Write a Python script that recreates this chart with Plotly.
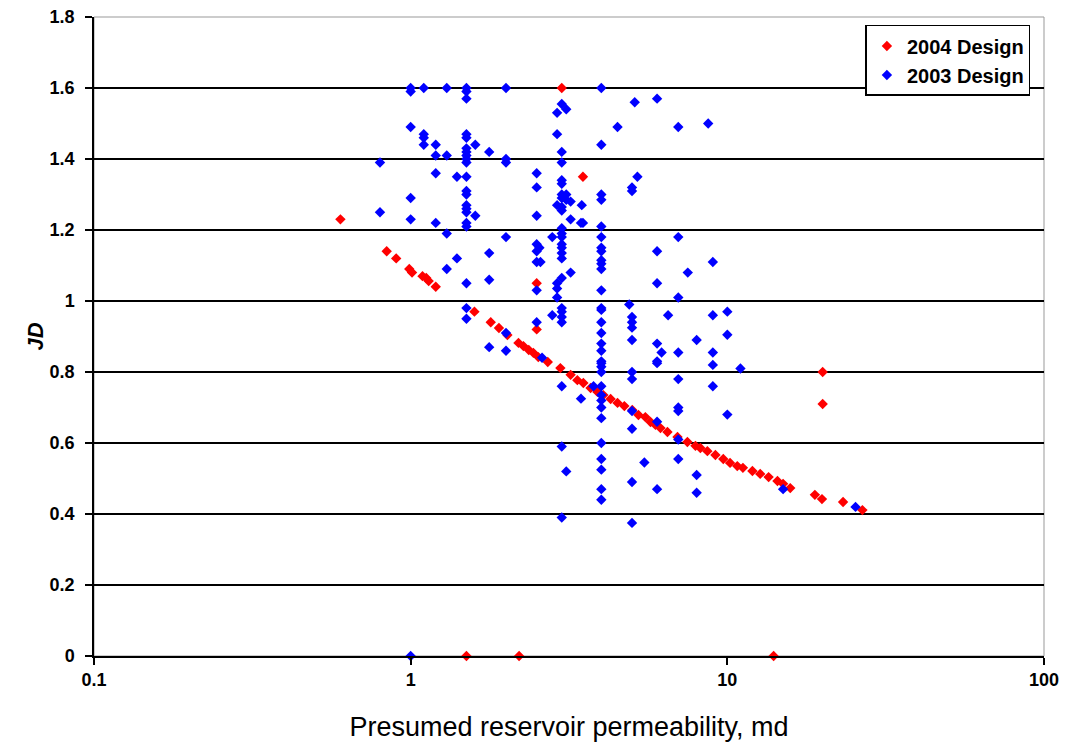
import plotly.graph_objects as go

# ---- data ----
red_k = [0.84, 0.90, 0.99, 1.01, 1.09, 1.12, 1.14, 1.20, 1.59, 1.79, 1.90, 2.02, 2.19, 2.27, 2.36,
         2.44, 2.53, 2.71, 2.97, 3.20, 3.36, 3.51, 3.70, 3.89, 4.06, 4.28, 4.50, 4.73, 5.01, 5.24,
         5.51, 5.72, 5.93, 6.15, 6.47, 6.96, 7.48, 7.93, 8.22, 8.65, 9.17, 9.71, 10.2, 10.75, 11.2,
         12.0, 12.7, 13.5, 14.4, 15.0, 15.8, 18.9, 19.9, 23.2, 26.7,
         0.6, 2.5, 2.5, 3.0, 3.5, 20.0, 20.0, 1.5, 2.2, 14.0]
red_jd = [1.14, 1.12, 1.09, 1.08, 1.07, 1.065, 1.056, 1.04, 0.97, 0.94, 0.924, 0.904, 0.882, 0.873, 0.862,
          0.854, 0.842, 0.828, 0.811, 0.792, 0.777, 0.769, 0.755, 0.744, 0.735, 0.724, 0.713, 0.704, 0.693, 0.679,
          0.673, 0.659, 0.651, 0.642, 0.631, 0.617, 0.603, 0.592, 0.586, 0.577, 0.566, 0.555, 0.544, 0.535, 0.530,
          0.521, 0.513, 0.504, 0.493, 0.485, 0.473, 0.454, 0.442, 0.434, 0.411,
          1.23, 1.05, 0.92, 1.60, 1.35, 0.80, 0.71, 0.0, 0.0, 0.0]

blue_points = [
    (0.8, 1.39), (0.8, 1.25),
    (1.0, 1.60), (1.0, 1.59), (1.0, 1.49), (1.0, 1.29), (1.0, 1.23), (1.0, 0.0),
    (1.1, 1.60), (1.1, 1.47), (1.1, 1.46), (1.1, 1.44),
    (1.2, 1.44), (1.2, 1.41), (1.2, 1.36), (1.2, 1.22),
    (1.3, 1.60), (1.3, 1.41), (1.3, 1.19), (1.3, 1.09),
    (1.4, 1.35), (1.4, 1.12),
    (1.5, 1.60), (1.5, 1.59), (1.5, 1.57), (1.5, 1.47), (1.5, 1.46), (1.5, 1.43), (1.5, 1.42),
    (1.5, 1.41), (1.5, 1.40), (1.5, 1.39), (1.5, 1.35), (1.5, 1.31), (1.5, 1.30), (1.5, 1.27),
    (1.5, 1.26), (1.5, 1.25), (1.5, 1.22), (1.5, 1.21), (1.5, 1.05), (1.5, 0.98), (1.5, 0.95),
    (1.6, 1.44), (1.6, 1.24),
    (1.77, 1.42), (1.77, 1.135), (1.77, 1.06), (1.77, 0.87),
    (2.0, 1.60), (2.0, 1.40), (2.0, 1.39), (2.0, 1.18), (2.0, 0.91), (2.0, 0.86),
    (2.5, 1.36), (2.5, 1.32), (2.5, 1.24), (2.5, 1.16), (2.55, 1.15), (2.5, 1.14), (2.5, 1.11),
    (2.57, 1.11), (2.5, 1.03), (2.5, 0.94), (2.6, 0.84),
    (2.8, 1.18), (2.8, 0.96),
    (3.0, 1.555), (3.1, 1.54), (2.9, 1.53), (2.9, 1.47), (3.0, 1.42), (3.0, 1.39), (3.0, 1.34),
    (3.0, 1.33), (3.0, 1.30), (3.1, 1.30), (3.0, 1.29), (3.1, 1.285), (2.9, 1.27), (3.0, 1.265),
    (3.2, 1.28), (3.0, 1.255), (3.2, 1.23), (3.0, 1.205), (3.0, 1.19), (3.0, 1.18), (3.0, 1.16),
    (3.0, 1.15), (3.0, 1.135), (3.0, 1.12), (3.2, 1.08), (3.0, 1.065), (2.9, 1.05), (2.9, 1.035),
    (2.9, 1.01), (3.0, 0.98), (3.0, 0.97), (3.0, 0.955), (3.0, 0.94), (3.0, 0.76), (3.0, 0.59),
    (3.1, 0.52), (3.0, 0.39),
    (3.45, 1.22), (3.5, 1.22), (3.47, 1.27), (3.45, 0.725),
    (3.78, 0.76),
    (4.0, 1.60), (4.0, 1.44), (4.0, 1.30), (4.0, 1.285), (4.0, 1.21), (4.0, 1.18), (4.0, 1.15),
    (4.0, 1.14), (4.0, 1.115), (4.0, 1.105), (4.0, 1.09), (4.0, 1.03), (4.0, 0.98), (4.0, 0.975),
    (4.0, 0.94), (4.0, 0.91), (4.0, 0.88), (4.0, 0.86), (4.0, 0.83), (4.0, 0.825), (4.0, 0.815),
    (4.0, 0.80), (4.0, 0.76), (4.0, 0.735), (4.0, 0.72), (4.0, 0.70), (4.0, 0.67), (4.0, 0.60),
    (4.0, 0.555), (4.0, 0.525), (4.0, 0.47), (4.0, 0.44),
    (4.5, 1.49),
    (4.9, 0.99),
    (5.1, 1.56), (5.2, 1.35), (5.0, 1.32), (5.0, 1.31), (5.0, 0.955), (5.0, 0.94), (5.0, 0.925),
    (5.0, 0.89), (5.0, 0.80), (5.0, 0.78), (5.0, 0.69), (5.0, 0.64), (5.0, 0.49), (5.0, 0.375),
    (5.47, 0.545),
    (6.0, 1.57), (6.0, 1.14), (6.0, 1.05), (6.0, 0.88), (6.2, 0.855), (6.0, 0.83), (6.0, 0.825),
    (6.0, 0.66), (6.0, 0.47),
    (6.5, 0.96),
    (7.0, 1.49), (7.0, 1.18), (7.0, 1.01), (7.0, 0.855), (7.0, 0.78), (7.0, 0.70), (7.0, 0.69),
    (7.0, 0.61), (7.0, 0.555),
    (7.5, 1.08),
    (8.0, 0.89), (8.0, 0.51), (8.0, 0.46),
    (8.7, 1.50),
    (9.0, 1.11), (9.0, 0.96), (9.0, 0.855), (9.0, 0.82), (9.0, 0.76),
    (10.0, 0.97), (10.0, 0.905), (10.0, 0.68),
    (11.0, 0.81),
    (15.0, 0.47),
    (25.4, 0.42),
]
blue_k = [p[0] for p in blue_points]
blue_jd = [p[1] for p in blue_points]

x_ticks = [0.1, 1, 10, 100]
x_tick_labels = ["0.1", "1", "10", "100"]
y_ticks = [0, 0.2, 0.4, 0.6, 0.8, 1.0, 1.2, 1.4, 1.6, 1.8]
y_tick_labels = ["0", "0.2", "0.4", "0.6", "0.8", "1", "1.2", "1.4", "1.6", "1.8"]

FONT = "Liberation Sans, Arial, sans-serif"

fig = go.Figure()
fig.add_trace(go.Scatter(x=red_k, y=red_jd, mode="markers", name="2004 Design",
                         marker=dict(symbol="diamond", size=8, color="#FF0000"),
                         cliponaxis=False))
fig.add_trace(go.Scatter(x=blue_k, y=blue_jd, mode="markers", name="2003 Design",
                         marker=dict(symbol="diamond", size=8, color="#0000FF"),
                         cliponaxis=False))

fig.update_layout(
    width=1069, height=743,
    margin=dict(l=86, r=33, t=9, b=95, autoexpand=False),
    paper_bgcolor="white", plot_bgcolor="white",
    font=dict(family=FONT, color="black"),
    showlegend=True,
    legend=dict(x=0.812, y=0.9875, xanchor="left", yanchor="top",
                bgcolor="white", bordercolor="black", borderwidth=1.5,
                font=dict(family=FONT, size=20, color="black", weight="bold"),
                tracegroupgap=0, itemsizing="trace", itemwidth=30),
    xaxis=dict(type="log", range=[-1, 2], tickvals=x_ticks, ticktext=x_tick_labels,
               ticks="outside", ticklen=7, tickcolor="black", tickwidth=1.5,
               showline=True, linecolor="black", linewidth=1.5, showgrid=False, zeroline=False,
               automargin=False, ticklabeloverflow="allow",
               tickfont=dict(family=FONT, size=18, color="black", weight="bold"),
               title=dict(text="Presumed reservoir permeability, md",
                          font=dict(family=FONT, size=27, color="black"), standoff=28)),
    yaxis=dict(range=[0, 1.8], tickvals=y_ticks, ticktext=y_tick_labels,
               ticks="outside", ticklen=7, tickcolor="black", tickwidth=1.5,
               showline=True, linecolor="black", linewidth=1.5,
               showgrid=True, gridcolor="black", gridwidth=1.5, zeroline=False,
               automargin=False, ticklabelstandoff=7, ticklabeloverflow="allow",
               tickfont=dict(family=FONT, size=18, color="black", weight="bold"),
               title=dict(text="<b><i>JD</i></b>",
                          font=dict(family=FONT, size=22, color="black"), standoff=0)),
    shapes=[dict(type="rect", xref="paper", yref="paper", x0=0, y0=0, x1=1, y1=1,
                 line=dict(color="#999999", width=1), layer="below")],
)

fig.write_html("out.html")
